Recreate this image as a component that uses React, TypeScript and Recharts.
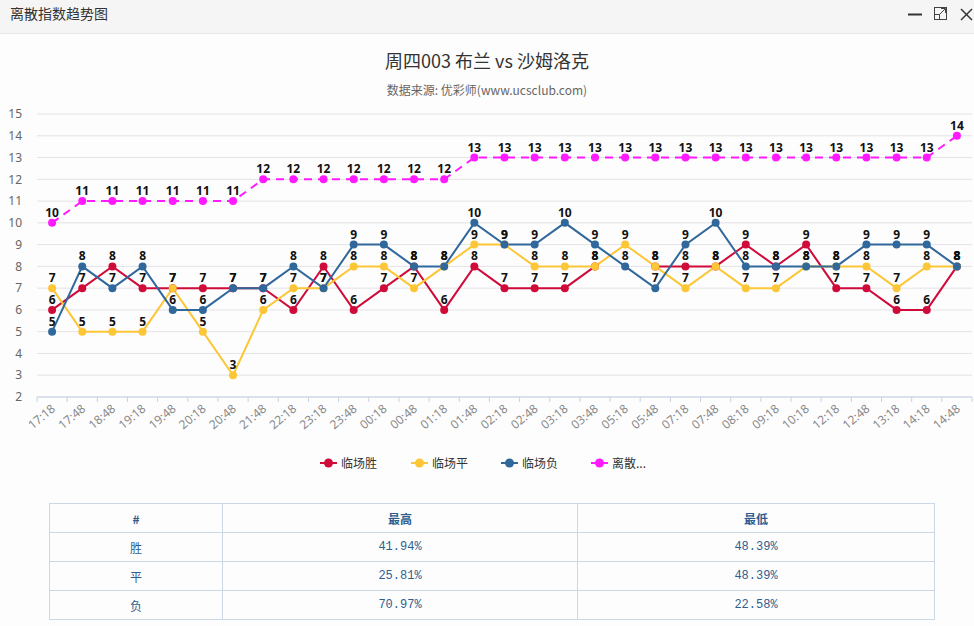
import React from 'react';
import { LineChart, Line, XAxis, YAxis, CartesianGrid, LabelList } from 'recharts';

const categories = ['17:18','17:48','18:48','19:18','19:48','20:18','20:48','21:48','22:18','23:18','23:48','00:18','00:48','01:18','01:48','02:18','02:48','03:18','03:48','05:18','05:48','07:18','07:48','08:18','09:18','10:18','12:18','12:48','13:18','14:18','14:48'];
const winValues: (number | null)[] = [6,7,8,7,7,7,7,7,6,8,6,7,8,6,8,7,7,7,8,null,8,8,8,9,8,9,7,7,6,6,8];
const drawValues = [7,5,5,5,7,5,3,6,7,7,8,8,7,8,9,9,8,8,8,9,8,7,8,7,7,8,8,8,7,8,8];
const loseValues = [5,8,7,8,6,6,7,7,8,7,9,9,8,8,10,9,9,10,9,8,7,9,10,8,8,8,8,9,9,9,8];
const discreteValues = [10,11,11,11,11,11,11,12,12,12,12,12,12,12,13,13,13,13,13,13,13,13,13,13,13,13,13,13,13,13,14];
const yTicks = [2,3,4,5,6,7,8,9,10,11,12,13,14,15];

const seriesNames = ['临场胜', '临场平', '临场负', '离散...'];
const seriesColors = ['#cf0b3a', '#fcc636', '#31689b', '#ff1aff'];

const tableHeader = ['#', '最高', '最低'];
const tableRows = [
  ['胜', '41.94%', '48.39%'],
  ['平', '25.81%', '48.39%'],
  ['负', '70.97%', '22.58%'],
];

const data = categories.map((c, i) => ({
  name: c,
  win: winValues[i],
  draw: drawValues[i],
  lose: loseValues[i],
  discrete: discreteValues[i],
}));

const PLOT_W = 935;
const BAND = PLOT_W / categories.length;

const XTick = (props: any) => {
  const { x, y, payload, index } = props;
  const tx = x + 4;
  const ty = y + 13;
  return (
    <g>
      <line x1={x - BAND / 2} x2={x - BAND / 2} y1={y} y2={y + 5} stroke="#c5d2e6" />
      {index === categories.length - 1 && (
        <line x1={x + BAND / 2} x2={x + BAND / 2} y1={y} y2={y + 5} stroke="#c5d2e6" />
      )}
      <text x={tx} y={ty} transform={`rotate(-40, ${tx}, ${ty})`} textAnchor="end" fill="#8a8a8a" fontSize={12} fontFamily="'Noto Sans', sans-serif">
        {payload.value}
      </text>
    </g>
  );
};

const labelStyle = { fontSize: 12, fontWeight: 700, fill: '#111', fontFamily: "'Noto Sans', sans-serif" } as any;

export default function App() {
  const keys = ['win', 'draw', 'lose', 'discrete'];
  const legendLefts = [320, 411, 501, 591];
  return (
    <div style={{ position: 'absolute', left: 0, top: 0, width: 974, height: 626, background: '#fdfdfd', fontFamily: "'Noto Sans CJK SC', 'Noto Sans', sans-serif", overflow: 'hidden' }}>
      <div style={{ position: 'absolute', left: 0, top: 0, width: 974, height: 33, background: '#f5f5f5', borderBottom: '1px solid #e9e9e9' }}>
        <div style={{ position: 'absolute', left: 10, top: 4, fontSize: 14, color: '#333', lineHeight: '18px' }}>离散指数趋势图</div>
        <svg style={{ position: 'absolute', left: 900, top: 0 }} width={74} height={33}>
          <line x1={8} x2={22} y1={14.5} y2={14.5} stroke="#333" strokeWidth={2} />
          <rect x={34.5} y={7.5} width={12} height={12} fill="none" stroke="#444" strokeWidth={1} />
          <rect x={34.5} y={14.5} width={5} height={5} fill="none" stroke="#444" strokeWidth={1} />
          <line x1={39} x2={45} y1={15} y2={9} stroke="#444" strokeWidth={1} />
          <line x1={41} x2={45.5} y1={8.5} y2={8.5} stroke="#444" strokeWidth={1} />
          <line x1={45.5} x2={45.5} y1={8.5} y2={13} stroke="#444" strokeWidth={1} />
          <line x1={61} x2={72} y1={9} y2={20} stroke="#333" strokeWidth={1.5} />
          <line x1={72} x2={61} y1={9} y2={20} stroke="#333" strokeWidth={1.5} />
        </svg>
      </div>
      <div style={{ position: 'absolute', left: 0, width: 974, top: 49, textAlign: 'center', fontSize: 18, color: '#333', lineHeight: '22px' }}>周四003 布兰 vs 沙姆洛克</div>
      <div style={{ position: 'absolute', left: 0, width: 974, top: 82, textAlign: 'center', fontSize: 12, color: '#666', lineHeight: '16px' }}>数据来源: 优彩师(www.ucsclub.com)</div>
      <div style={{ position: 'absolute', left: 0, top: 100 }}>
        <LineChart width={974} height={345} data={data} margin={{ top: 14, right: 2, left: 0, bottom: 0 }}>
          <CartesianGrid vertical={false} stroke="#e3e3e8" />
          <XAxis
            dataKey="name"
            interval={0}
            height={48}
            tickLine={false}
            tickSize={0}
            tickMargin={0}
            padding={{ left: BAND / 2, right: BAND / 2 }}
            axisLine={{ stroke: '#c5d2e6' }}
            tick={<XTick />}
          />
          <YAxis
            width={37}
            domain={[2, 15]}
            ticks={yTicks}
            interval={0}
            axisLine={false}
            tickLine={false}
            tickSize={0}
            tickMargin={15}
            tick={{ fontSize: 12, fill: '#666', fontFamily: "'Noto Sans', sans-serif" }}
          />
          {keys.map((k, i) => (
            <Line
              key={k}
              type="linear"
              dataKey={k}
              name={seriesNames[i]}
              stroke={seriesColors[i]}
              strokeWidth={2}
              strokeDasharray={k === 'discrete' ? '8 6' : undefined}
              dot={{ r: 4, fill: seriesColors[i], stroke: seriesColors[i], strokeWidth: 0, strokeDasharray: '' }}
              activeDot={false}
              isAnimationActive={false}
            >
              <LabelList dataKey={k} position="top" offset={6} style={labelStyle} />
            </Line>
          ))}
        </LineChart>
      </div>
      {seriesNames.map((n, i) => (
        <div key={n} style={{ position: 'absolute', left: legendLefts[i], top: 455, height: 16, display: 'flex', alignItems: 'center' }}>
          <svg width={17} height={16}>
            <line x1={0} x2={17} y1={8} y2={8} stroke={seriesColors[i]} strokeWidth={2} />
            <circle cx={8.5} cy={8} r={4.5} fill={seriesColors[i]} />
          </svg>
          <span style={{ marginLeft: 4, fontSize: 12, color: '#333', lineHeight: '16px' }}>{n}</span>
        </div>
      ))}
      <table style={{ position: 'absolute', left: 49, top: 503, width: 885, borderCollapse: 'collapse', tableLayout: 'fixed', background: '#fdfdfd' }}>
        <colgroup>
          <col style={{ width: 173 }} />
          <col style={{ width: 355 }} />
          <col style={{ width: 357 }} />
        </colgroup>
        <thead>
          <tr>
            {tableHeader.map((h) => (
              <th key={h} style={{ border: '1px solid #cbd9e7', height: 28, padding: 0, fontSize: 12, color: '#2f5d8f', fontWeight: 700, textAlign: 'center' }}>{h}</th>
            ))}
          </tr>
        </thead>
        <tbody>
          {tableRows.map((r) => (
            <tr key={r[0]}>
              {r.map((c, j) => (
                <td key={j} style={{ border: '1px solid #cbd9e7', height: 28, padding: 0, fontSize: 12, color: '#2f5d8f', textAlign: 'center', fontFamily: j === 0 ? undefined : "'Liberation Mono', 'DejaVu Sans Mono', monospace" }}>{c}</td>
              ))}
            </tr>
          ))}
        </tbody>
      </table>
    </div>
  );
}
